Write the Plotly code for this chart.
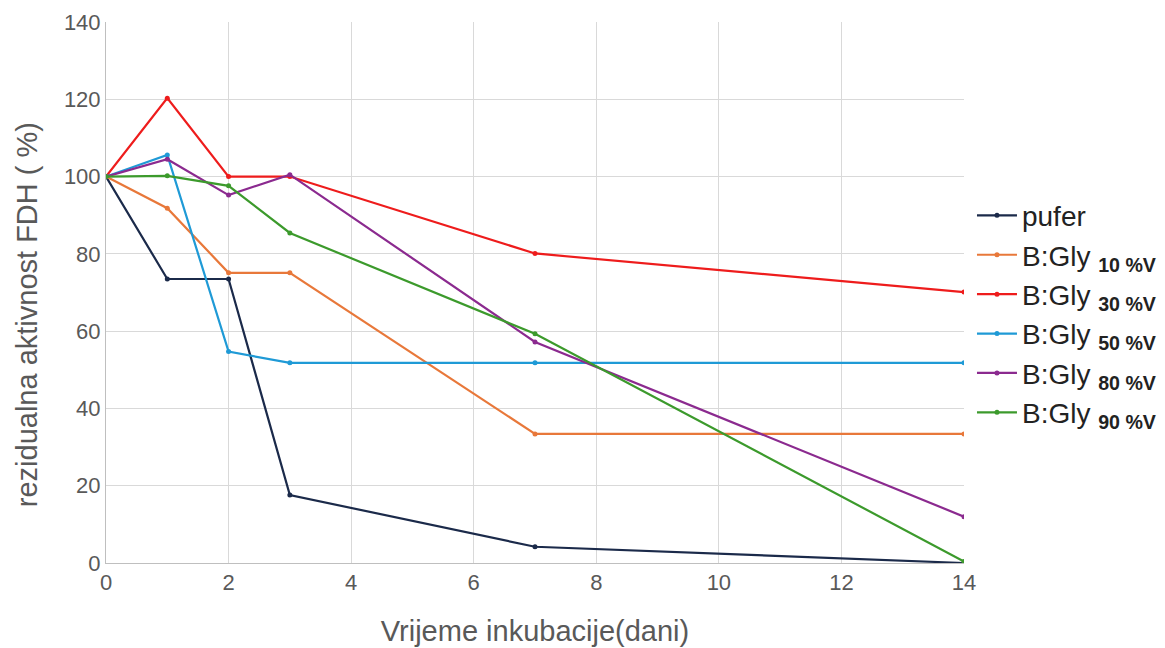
import plotly.graph_objects as go

days = [0, 1, 2, 3, 7, 14]
pufer = [100, 73.5, 73.5, 17.6, 4.2, 0.0]
gly10 = [100, 91.8, 75.1, 75.1, 33.4, 33.4]
gly30 = [100, 120.3, 100, 100, 80.1, 70.1]
gly50 = [100, 105.6, 54.7, 51.8, 51.8, 51.8]
gly80 = [100, 104.5, 95.2, 100.5, 57.2, 12.0]
gly90 = [100, 100.2, 97.6, 85.4, 59.3, 0.4]

names = ["pufer",
         "B:Gly <sub><b>10 %V</b></sub>",
         "B:Gly <sub><b>30 %V</b></sub>",
         "B:Gly <sub><b>50 %V</b></sub>",
         "B:Gly <sub><b>80 %V</b></sub>",
         "B:Gly <sub><b>90 %V</b></sub>"]
series = [pufer, gly10, gly30, gly50, gly80, gly90]
colors = ["#1b2a4a", "#e8783a", "#ee1c1c", "#1f9ad6", "#8b2a8f", "#3c9a2c"]

fig = go.Figure()
for i, (n, s, c) in enumerate(zip(names, series, colors)):
    fig.add_trace(go.Scatter(x=days, y=s, name=n, mode="lines+markers",
                             legendgroup=f"g{i}",
                             line=dict(color=c, width=2.2),
                             marker=dict(color=c, size=5)))

fig.update_layout(
    width=1165, height=648,
    margin=dict(l=98, r=207, t=14, b=93),
    paper_bgcolor="white", plot_bgcolor="white",
    font=dict(family="Liberation Sans, Arial, sans-serif", color="#595959"),
    legend=dict(x=1.0093, y=0.46, yanchor="middle", xanchor="left",
                font=dict(size=28, color="#222222"), tracegroupgap=0,
                itemwidth=40),
    showlegend=True,
)
fig.update_xaxes(range=[0, 14], dtick=2, showgrid=True, gridcolor="#d9d9d9", gridwidth=1,
                 zeroline=False, showline=True, linecolor="#bfbfbf",
                 tickfont=dict(size=22, color="#595959"), automargin=False,
                 title=dict(text="Vrijeme inkubacije(dani)", font=dict(size=29, color="#595959"), standoff=26))
fig.update_yaxes(range=[0, 140], dtick=20, showgrid=True, gridcolor="#d9d9d9", gridwidth=1,
                 zeroline=False, showline=True, linecolor="#bfbfbf", automargin=False,
                 tickfont=dict(size=22, color="#595959"), ticks="", ticklen=0)
fig.add_annotation(text="rezidualna aktivnost FDH ( %)", textangle=-90,
                   xref="paper", yref="paper", x=0, y=0.458, xanchor="center", yanchor="middle",
                   xshift=-79, showarrow=False, font=dict(size=29, color="#595959"))

fig.write_html("out.html")
